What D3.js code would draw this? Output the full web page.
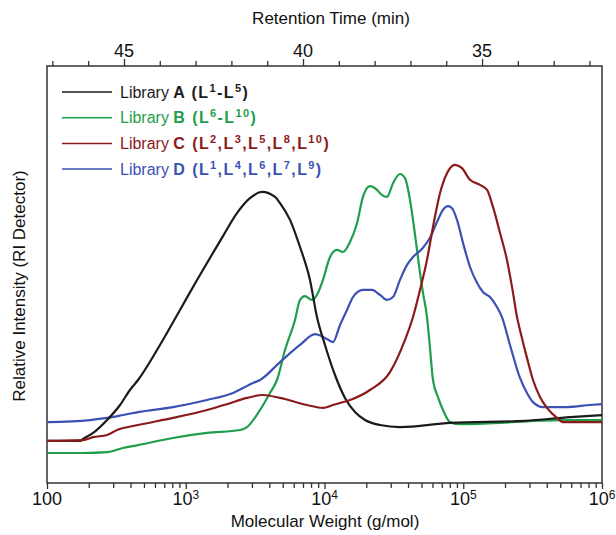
<!DOCTYPE html>
<html>
<head>
<meta charset="utf-8">
<title>GPC traces</title>
<script src="https://d3js.org/d3.v7.min.js"></script>
<style>
  body { margin: 0; background: #fff; }
  text { font-family: "Liberation Sans", Arial, Helvetica, sans-serif; }
</style>
</head>
<body>
<div id="chart"></div>
<script>
// molecular weight (g/mol) and relative intensity (0-100) for each library
var mwA = [100,173,182,215,271,336,396,453,652,909,1206,1572,1855,2339,2902,3545,4399,4780,5641,6658,7857,8824,10080,11900,14050,16590,19590,25120,35000,80300,278600,587600,1000000];
var intA = [10.1,10.1,10.6,12.0,15.1,18.7,22.3,24.7,33.1,41.5,48.7,55.2,59.2,64.7,68.3,69.8,68.6,67.1,63.1,56.6,48.7,39.8,33.1,25.9,20.4,17.0,15.1,13.9,13.4,14.4,14.9,15.8,16.3];

var mwB = [100,182,271,353,453,809,1422,2459,2762,3427,4046,4545,5190,6127,6658,7230,8128,8824,9750,10960,12310,13600,15270,17150,18930,21260,23880,25120,28200,31170,35000,38030,41320,43450,46430,48790,51270,54790,57570,60510,65720,71450,80300,94840,184000,318400,559700,1000000];
var intB = [7.2,7.2,7.4,8.4,9.1,10.8,12.0,12.7,13.4,17.5,21.6,24.7,31.9,39.1,43.9,44.8,43.9,45.1,48.7,54.2,55.9,55.4,57.8,62.3,68.6,71.2,70.3,69.5,68.6,71.9,74.1,73.1,67.9,63.1,55.9,50.4,45.6,39.8,32.4,24.7,20.6,17.5,14.6,14.1,14.4,14.9,15.1,15.1];

var mwC = [100,182,215,271,320,453,809,1422,1982,2762,3606,4780,7482,9750,11510,12940,15270,21260,29650,38030,43450,48790,54790,60510,67980,76340,87230,98000,111900,132100,148400,163800,184000,206600,228400,244000,256400,287900,318400,357300,401300,474200,523600,1000000];
var intC = [10.1,10.3,11.0,11.5,12.7,13.9,15.6,17.5,18.9,20.4,21.1,20.4,18.7,18.0,18.7,19.2,19.9,22.3,26.6,34.3,39.8,46.3,53.5,61.4,69.5,74.3,76.3,75.5,72.7,71.5,70.3,66.2,60.0,53.5,45.6,39.8,36.7,30.0,24.7,20.6,18.0,15.6,14.6,14.6];

var mwD = [100,204,271,353,453,809,1422,2193,3055,3427,4780,6658,8550,10080,11510,12940,14520,16040,18930,21980,25120,28200,31170,35000,39340,43450,51270,57570,64660,71450,77620,82980,90150,99560,111900,125600,138700,155900,175000,190200,217100,256400,287900,318400,375700,559700,820000,1000000];
var intD = [14.6,15.1,15.6,16.3,17.0,18.2,19.9,21.6,24.0,24.7,29.0,33.1,35.7,34.8,33.8,37.9,41.5,44.6,46.3,46.3,45.1,43.9,44.6,48.7,52.3,54.2,56.4,58.8,62.6,65.5,66.4,65.9,63.1,57.6,51.8,48.0,45.8,44.6,42.2,39.8,33.1,25.2,21.6,19.4,18.2,18.2,18.7,18.9];

var names = ["A", "B", "C", "D"];
var ligands = [
  [["L","1"],["-L","5"]],
  [["L","6"],["-L","10"]],
  [["L","2"],[",L","3"],[",L","5"],[",L","8"],[",L","10"]],
  [["L","1"],[",L","4"],[",L","6"],[",L","7"],[",L","9"]]
];
var colors = ["#1b1b1b", "#1f9e4b", "#8b1b1b", "#3b52b4"];

var bottomMajor = [1e2, 1e3, 1e4, 1e5, 1e6];
var bottomLabels = [["100",""], ["10","3"], ["10","4"], ["10","5"], ["10","6"]];
var timeMajor = [45, 40, 35];

var W = 616, H = 535;
var pL = 47, pR = 602, pT = 66, pB = 483;

var svg = d3.select("#chart").append("svg")
  .attr("width", W).attr("height", H);

var x = d3.scaleLog().domain([100, 1e6]).range([pL, pR]);
var xTime = d3.scaleLinear().domain([47.15, 31.65]).range([pL, pR]);
var y = d3.scaleLinear().domain([0, 100]).range([pB, pT]);

// minor ticks on the log axis
var minor = [];
[100, 1000, 10000, 100000].forEach(function(d) {
  for (var k = 2; k <= 9; k++) minor.push(d * k);
});

var gB = svg.append("g").attr("transform", "translate(0," + pB + ")");
gB.call(d3.axisBottom(x).tickValues(minor).tickSize(5).tickFormat("").tickSizeOuter(0));
gB.append("g").call(d3.axisBottom(x).tickValues(bottomMajor).tickSize(6).tickFormat("").tickSizeOuter(0));
gB.selectAll("path").remove();
gB.selectAll("line").attr("stroke", "#333").attr("stroke-width", 1.3);

bottomMajor.forEach(function(d, i) {
  var t = svg.append("text")
    .attr("x", x(d)).attr("y", 505)
    .attr("text-anchor", "middle")
    .attr("font-size", 18).attr("fill", "#111");
  t.append("tspan").text(bottomLabels[i][0]);
  if (bottomLabels[i][1]) t.append("tspan").attr("dy", -6).attr("font-size", 12).text(bottomLabels[i][1]);
});

// top axis (retention time)
var timeTicks = d3.range(32, 48);
var gT = svg.append("g").attr("transform", "translate(0," + pT + ")");
gT.call(d3.axisTop(xTime).tickValues(timeTicks.filter(function(t) { return timeMajor.indexOf(t) < 0; })).tickSize(5).tickFormat("").tickSizeOuter(0));
gT.append("g").call(d3.axisTop(xTime).tickValues(timeMajor).tickSize(7).tickFormat("").tickSizeOuter(0));
gT.selectAll("path").remove();
gT.selectAll("line").attr("stroke", "#333").attr("stroke-width", 1.3);

timeMajor.forEach(function(t) {
  svg.append("text")
    .attr("x", xTime(t)).attr("y", 57)
    .attr("text-anchor", "middle")
    .attr("font-size", 18).attr("fill", "#111")
    .text(t);
});

// frame
svg.append("rect")
  .attr("x", pL).attr("y", pT)
  .attr("width", pR - pL).attr("height", pB - pT)
  .attr("fill", "none").attr("stroke", "#333").attr("stroke-width", 1.5);

// axis titles
svg.append("text")
  .attr("x", 331).attr("y", 24)
  .attr("text-anchor", "middle").attr("font-size", 17).attr("fill", "#111")
  .text("Retention Time (min)");
svg.append("text")
  .attr("x", 325).attr("y", 527)
  .attr("text-anchor", "middle").attr("font-size", 17).attr("fill", "#111")
  .text("Molecular Weight (g/mol)");
svg.append("text")
  .attr("transform", "translate(25,286) rotate(-90)")
  .attr("text-anchor", "middle").attr("font-size", 17).attr("fill", "#111")
  .text("Relative Intensity (RI Detector)");

// traces
var series = [[mwA, intA], [mwB, intB], [mwC, intC], [mwD, intD]];
var line = d3.line()
  .x(function(d) { return x(d[0]); })
  .y(function(d) { return y(d[1]); })
  .curve(d3.curveMonotoneX);

var order = [1, 3, 0, 2];
order.forEach(function(i) {
  var pts = series[i][0].map(function(m, j) { return [m, series[i][1][j]]; });
  svg.append("path")
    .datum(pts)
    .attr("d", line)
    .attr("fill", "none")
    .attr("stroke", colors[i])
    .attr("stroke-width", 2.2)
    .attr("stroke-linejoin", "round");
});

// legend
names.forEach(function(n, i) {
  var ly = 92 + i * 25.7;
  svg.append("line")
    .attr("x1", 62).attr("x2", 112)
    .attr("y1", ly).attr("y2", ly)
    .attr("stroke", colors[i]).attr("stroke-width", 1.5);
  var t = svg.append("text")
    .attr("x", 120).attr("y", ly + 5.5)
    .attr("font-size", 16).attr("fill", colors[i]);
  t.append("tspan").text("Library ");
  var b = t.append("tspan").attr("font-weight", "bold").attr("letter-spacing", 1.4);
  b.append("tspan").text(n + " (");
  var shift = 0;
  ligands[i].forEach(function(p) {
    b.append("tspan").attr("dy", shift).text(p[0]);
    b.append("tspan").attr("font-size", 11).attr("dy", -6).text(p[1]);
    shift = 6;
  });
  b.append("tspan").attr("dy", shift).text(")");
});
</script>
</body>
</html>
